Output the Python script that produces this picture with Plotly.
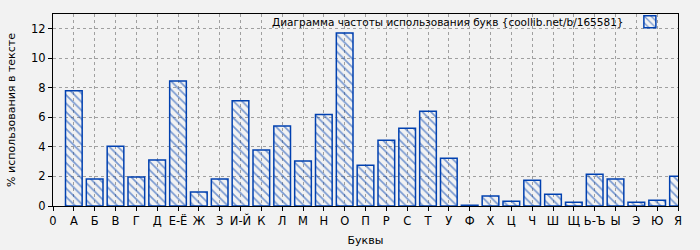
import plotly.graph_objects as go

letters = ["А", "Б", "В", "Г", "Д", "Е-Ё", "Ж", "З", "И-Й", "К", "Л", "М", "Н", "О", "П",
           "Р", "С", "Т", "У", "Ф", "Х", "Ц", "Ч", "Ш", "Щ", "Ь-Ъ", "Ы", "Э", "Ю", "Я"]
values = [7.8, 1.83, 4.05, 1.97, 3.12, 8.47, 0.95, 1.83, 7.12, 3.8, 5.42, 3.05, 6.2, 11.71, 2.76,
          4.45, 5.27, 6.42, 3.23, 0.05, 0.68, 0.32, 1.74, 0.79, 0.25, 2.15, 1.83, 0.25, 0.39, 2.01]
positions = list(range(1, len(letters) + 1))
tick_vals = [0] + positions
tick_text = ["0"] + letters
y_ticks = [0, 2, 4, 6, 8, 10, 12]
series_name = "Диаграмма частоты использования букв {coollib.net/b/165581}"

BLUE = "#0040b0"
BG = "#f2f2f2"
FONT = "DejaVu Sans, Verdana, sans-serif"

fig = go.Figure()
fig.add_trace(go.Bar(
    x=positions, y=values, width=0.8, name="",
    hovertext=letters,
    marker=dict(
        color="rgba(0,0,0,0)",
        line=dict(color=BLUE, width=1.5),
        pattern=dict(shape="\\", fgcolor=BLUE, bgcolor="rgba(0,0,0,0)", size=6, solidity=0.28),
    ),
    showlegend=True,
))

fig.add_annotation(
    x=0.917, y=1.0, xref="paper", yref="paper", xanchor="right", yanchor="top",
    text=series_name, showarrow=False, font=dict(family=FONT, size=10.5, color="#000"),
    yshift=0,
)

fig.update_layout(
    width=700, height=250,
    margin=dict(l=53, r=22, t=14, b=44, autoexpand=False),
    paper_bgcolor=BG, plot_bgcolor=BG,
    font=dict(family=FONT, size=11, color="#000"),
    bargap=0.2,
    legend=dict(x=0.995, y=1.035, xanchor="right", yanchor="top", bgcolor="rgba(0,0,0,0)",
                font=dict(size=1), itemwidth=30, tracegroupgap=0),
    xaxis=dict(
        range=[0, 30], tickmode="array", tickvals=tick_vals, ticktext=tick_text,
        showline=True, linecolor="#000", linewidth=1, mirror=True,
        showgrid=True, gridcolor="#a0a0a0", griddash="dot", gridwidth=1,
        ticks="outside", ticklen=4, tickcolor="#000", tickfont=dict(size=11.5),
        title=dict(text="Буквы", font=dict(size=11), standoff=9),
        zeroline=False, automargin=False,
    ),
    yaxis=dict(
        range=[0, 13], tickvals=y_ticks,
        showline=True, linecolor="#000", linewidth=1, mirror=True,
        showgrid=True, gridcolor="#a0a0a0", griddash="dot", gridwidth=1,
        ticks="outside", ticklen=4, tickcolor="#000", tickfont=dict(size=11.5),
        title=dict(text="% использования в тексте", font=dict(size=11), standoff=13),
        zeroline=False, automargin=False,
    ),
)

fig.write_html("out.html")
